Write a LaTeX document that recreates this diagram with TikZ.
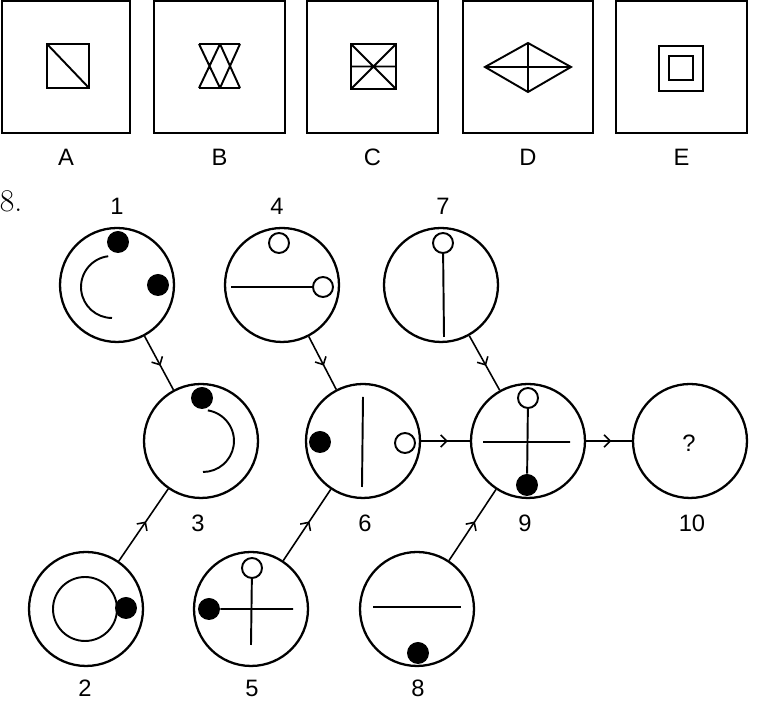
\documentclass[tikz,border=0pt]{standalone}
\usepackage{fontspec}
\setsansfont{Liberation Sans}
\usetikzlibrary{arrows.meta,decorations.markings}

\begin{document}
\begin{tikzpicture}[
    x=0.02cm, y=0.02cm,
    frame/.style={draw, line width=1.4pt},
    fig/.style={line width=1.1pt},
    bigc/.style={circle, draw, line width=1.3pt, minimum size=2.28cm, inner sep=0pt},
    dot/.style={circle, fill=black, minimum size=0.44cm, inner sep=0pt},
    hole/.style={circle, draw, line width=1.1pt, minimum size=0.40cm, inner sep=0pt},
    lbl/.style={font=\sffamily\fontsize{13.5}{15}\selectfont},
    flow/.style={line width=0.9pt, decoration={markings,
        mark=at position 0.55 with {\arrow{Straight Barb[length=3.5pt,width=7pt,line width=0.9pt]}}},
        postaction={decorate}}
]
\useasboundingbox (0,0) rectangle (762,720);
% answer boxes A--E
\foreach \n/\xa/\xb in {A/2/130, B/154/285, C/307/438, D/463/593, E/616/747} {
    \draw[frame] (\xa,719) rectangle (\xb,587);
    \node[lbl] (lab\n) at ({(\xa+\xb)/2},563) {\n};
}
% A
\draw[fig] (47,676) rectangle (89,632) (47,676) -- (89,632);
% B
\draw[fig] (199,676) -- (240,676) (199,632) -- (240,632)
    (199,676) -- (220,632) (220,676) -- (199,632)
    (220,676) -- (240,632) (240,676) -- (220,632);
% C
\draw[fig] (351,676) rectangle (396,631) (351,653.5) -- (396,653.5)
    (351,676) -- (396,631) (396,676) -- (351,631);
% D
\draw[fig] (485,653) -- (528,677) -- (571,653) -- (528,628) -- cycle
    (485,653) -- (571,653) (528,677) -- (528,628);
% E
\draw[fig] (659,674) rectangle (703,629) (669,664) rectangle (693,640);

% problem 8
\node[font=\fontsize{18}{20}\selectfont] (num) at (11,519) {8.};
\foreach \i/\x/\y in {1/117/435, 4/282/435, 7/441/435,
                      3/201/279, 6/363/279, 9/528/279, 10/690/279,
                      2/86/111, 5/251/111, 8/417/111} {
    \node[bigc] (n\i) at (\x,\y) {};
}
\foreach \i/\x/\y in {1/117/514, 4/277/514, 7/443/514,
                      3/198/197, 6/365/197, 9/525/197, 10/692/197,
                      2/85/32, 5/252/32, 8/418/32} {
    \node[lbl] (t\i) at (\x,\y) {\i};
}
% 1
\node[dot] (d1a) at (118,478) {};
\node[dot] (d1b) at (158,435) {};
\draw[fig] (112,433) ++(97:0.62cm) arc[start angle=97, end angle=270, radius=0.62cm];
% 4
\node[hole] (h4a) at (279,477) {};
\node[hole] (h4b) at (323,433) {};
\coordinate (e4) at (231,433);
\draw[fig] (e4) -- (h4b);
% 7
\node[hole] (h7) at (443,477) {};
\coordinate (e7) at (444,383);
\draw[fig] (h7) -- (e7);
% 3
\node[dot] (d3) at (202,322) {};
\draw[fig] (203,279) ++(81:0.62cm) arc[start angle=81, end angle=-90, radius=0.62cm];
% 6
\node[dot] (d6) at (320,278) {};
\node[hole] (h6) at (405,277) {};
\draw[fig] (363,323) -- (362,233);
% 9
\node[hole] (h9) at (528,322) {};
\node[dot] (d9) at (527,235) {};
\draw[fig] (h9) -- (d9) (483,278) -- (570,278);
% 10
\node[lbl] (q10) at (689,277) {?};
% 2
\node[circle, draw, line width=1.1pt, minimum size=1.28cm, inner sep=0pt] (r2) at (85,111) {};
\node[dot] (d2) at (126,112) {};
% 5
\node[hole] (h5) at (252,152) {};
\node[dot] (d5) at (209,111) {};
\coordinate (e5a) at (251,75);
\coordinate (e5b) at (293,111);
\draw[fig] (h5) -- (e5a) (d5) -- (e5b);
% 8
\node[dot] (d8) at (418,67) {};
\draw[fig] (373,113) -- (461,113);

% connectors
\draw[flow] (n1) -- (n3);
\draw[flow] (n2) -- (n3);
\draw[flow] (n4) -- (n6);
\draw[flow] (n5) -- (n6);
\draw[flow] (n6) -- (n9);
\draw[flow] (n7) -- (n9);
\draw[flow] (n8) -- (n9);
\draw[flow] (n9) -- (n10);
\end{tikzpicture}
\end{document}
